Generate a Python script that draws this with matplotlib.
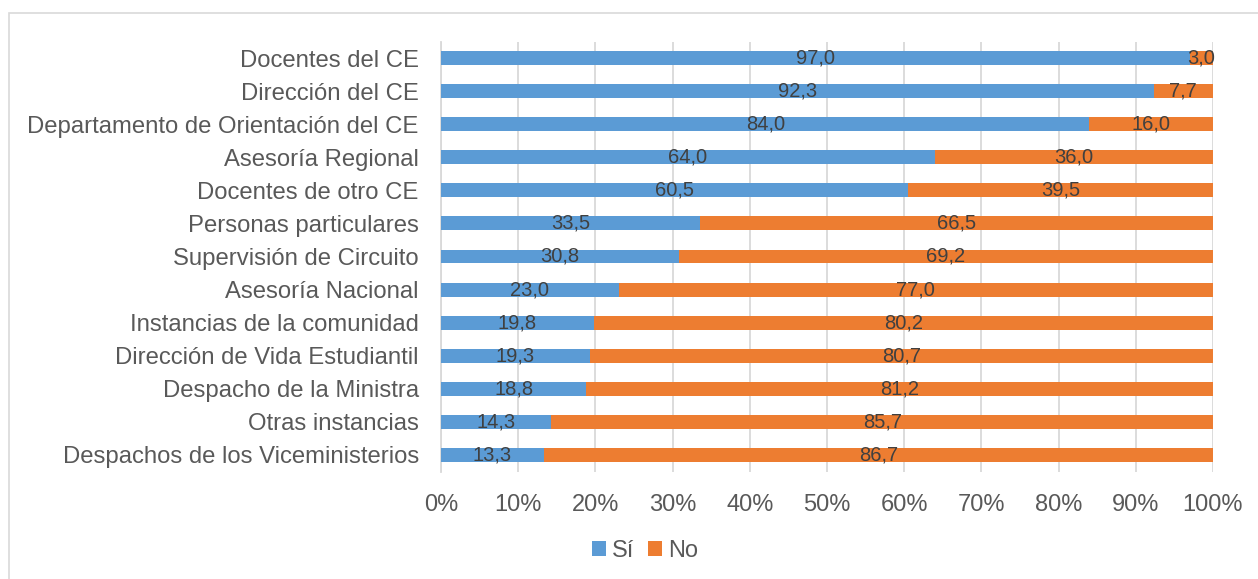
import matplotlib
matplotlib.use("Agg")
import matplotlib.pyplot as plt
from matplotlib.patches import Rectangle
import numpy as np

categories = [
    "Docentes del CE",
    "Dirección del CE",
    "Departamento de Orientación del CE",
    "Asesoría Regional",
    "Docentes de otro CE",
    "Personas particulares",
    "Supervisión de Circuito",
    "Asesoría Nacional",
    "Instancias de la comunidad",
    "Dirección de Vida Estudiantil",
    "Despacho de la Ministra",
    "Otras instancias",
    "Despachos de los Viceministerios",
]
si_values = [97.0, 92.3, 84.0, 64.0, 60.5, 33.5, 30.8, 23.0, 19.8, 19.3, 18.8, 14.3, 13.3]
no_values = [3.0, 7.7, 16.0, 36.0, 39.5, 66.5, 69.2, 77.0, 80.2, 80.7, 81.2, 85.7, 86.7]
series_names = ["Sí", "No"]
x_ticks = [0, 10, 20, 30, 40, 50, 60, 70, 80, 90, 100]

plt.rcParams['font.family'] = ['Liberation Sans', 'DejaVu Sans']

W, H = 1258, 579
fig = plt.figure(figsize=(W / 100, H / 100), dpi=100)
ax = fig.add_axes([441 / W, 1 - 471.5 / H, (1213 - 441) / W, (471.5 - 41.5) / H])

# figure border
fig.patches.append(Rectangle((9 / W, -0.1), 1.2, 1 - 13 / H + 0.1, transform=fig.transFigure,
                             fill=False, edgecolor='#d9d9d9', linewidth=1.2))

blue = '#5B9BD5'
orange = '#ED7D31'
y = np.arange(len(categories))
bh = 0.42
b1 = ax.barh(y, si_values, height=bh, color=blue, label=series_names[0], zorder=3)
b2 = ax.barh(y, no_values, left=si_values, height=bh, color=orange, label=series_names[1], zorder=3)

for bars, vals in ((b1, si_values), (b2, no_values)):
    labels = [f"{v:.1f}".replace('.', ',') for v in vals]
    ax.bar_label(bars, labels=labels, label_type='center', fontsize=14.5, color='#404040', zorder=4)

ax.set_xlim(0, 100)
ax.set_ylim(len(categories) - 0.5, -0.5)
ax.set_yticks(y)
ax.set_yticklabels(categories, fontsize=17.2, color='#595959')
ax.set_xticks(x_ticks)
ax.set_xticklabels([f"{t}%" for t in x_ticks], fontsize=17, color='#595959')
ax.tick_params(axis='both', length=0)
ax.tick_params(axis='x', pad=16)
ax.tick_params(axis='y', pad=16)
ax.grid(axis='x', color='#d9d9d9', linewidth=1.3, zorder=0)
for s in ('top', 'right', 'bottom'):
    ax.spines[s].set_visible(False)
ax.spines['left'].set_color('#d9d9d9')
ax.spines['left'].set_linewidth(1.3)

fig.legend(handles=[b1, b2], labels=series_names, loc='center', bbox_to_anchor=(645 / W, 1 - 551 / H),
           ncol=2, frameon=False, fontsize=17, handlelength=0.6, handleheight=0.6,
           handletextpad=0.25, columnspacing=0.6, labelcolor='#595959')

fig.savefig("out.png", dpi=100)
